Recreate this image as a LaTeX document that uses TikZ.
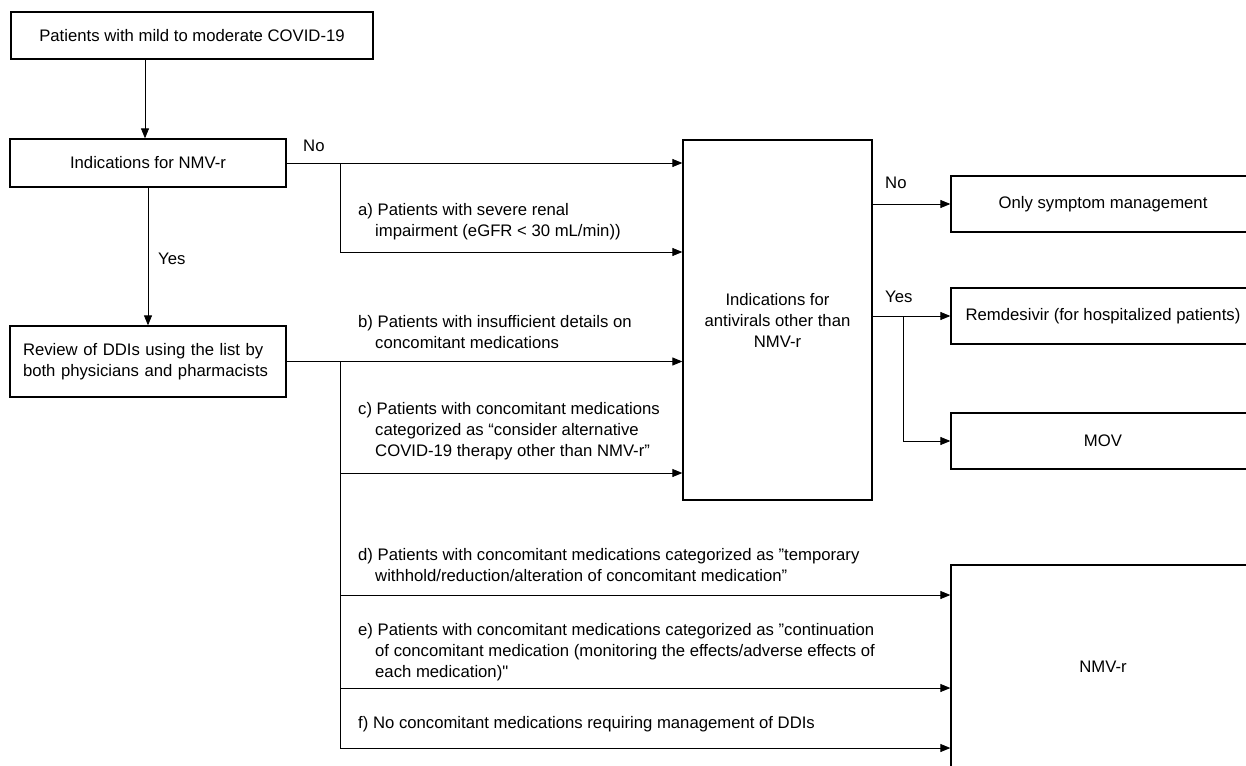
\documentclass[tikz,border=0pt]{standalone}
\usepackage{fontspec}
\setmainfont{Liberation Sans}[Ligatures=TeXOff]
\usetikzlibrary{arrows.meta}
\begin{document}
\begin{tikzpicture}[x=1pt,y=-1pt,
  txt/.style={font=\fontsize{16.7}{21}\selectfont},
  box/.style={txt, draw, line width=1.3pt, inner sep=0pt, align=center},
  lbl/.style={txt, anchor=base west, inner sep=0pt, align=left},
  conn/.style={line width=0.9pt},
  arr/.style={conn, -{Triangle[length=10pt,width=8pt]}}]
\fill[white] (0,0) rectangle (1246,765);
\clip (0,0) rectangle (1246,765);
% boxes
\node[box, minimum width=362pt, minimum height=47pt] (start) at (192,35.5) {Patients with mild to moderate COVID-19};
\node[box, minimum width=276pt, minimum height=48pt] (ind1) at (148,163) {Indications for NMV-r};
\node[box, minimum width=276pt, minimum height=71pt, text width=250pt, align=left] (rev) at (148,361.5) {Review of DDIs using the list by\\both physicians and pharmacists};
\node[box, minimum width=189pt, minimum height=360pt] (ind2) at (777.5,320) {Indications for\\antivirals other than\\NMV-r};
\node[box, minimum width=304pt, minimum height=56pt] (sym) at (1103,204) {Only symptom management};
\node[box, minimum width=304pt, minimum height=56pt] (rem) at (1103,316) {Remdesivir (for hospitalized patients)};
\node[box, minimum width=304pt, minimum height=56pt] (mov) at (1103,441) {MOV};
\node[box, minimum width=304pt, minimum height=203pt] (nmv) at (1103,666.5) {NMV-r};
% helper coordinates
\coordinate (c1) at (145,0);
\coordinate (ja) at (340,163);
\coordinate (ya) at (0,252);
\coordinate (jb) at (340,361.5);
\coordinate (yc) at (0,473);
\coordinate (yd) at (0,595);
\coordinate (ye) at (0,688);
\coordinate (yf) at (0,748);
\coordinate (jy) at (903,316);
% connectors
\draw[arr] (start.south -| c1) -- (ind1.north -| c1);
\draw[arr] (ind1) -- (rev);
\draw[arr] (ind1.east) -- (ind2.west |- ind1.east);
\draw[arr] (ja) |- (ind2.west |- ya);
\draw[arr] (rev.east) -- (ind2.west |- rev.east);
\draw[arr] (jb) |- (ind2.west |- yc);
\draw[arr] (jb) |- (nmv.west |- yd);
\draw[arr] (jb) |- (nmv.west |- ye);
\draw[arr] (jb) |- (nmv.west |- yf);
\draw[arr] (ind2.east |- sym.west) -- (sym.west);
\draw[arr] (ind2.east |- rem.west) -- (rem.west);
\draw[arr] (jy) |- (mov.west);
% labels (base = baseline of last line)
\node[lbl] (no1) at (303,151) {No};
\node[lbl] (yes1) at (158,264) {Yes};
\node[lbl] (no2) at (885,188) {No};
\node[lbl] (yes2) at (885,302) {Yes};
\node[lbl] (la) at (358,236) {a) Patients with severe renal\\\hspace*{17pt}impairment (eGFR < 30 mL/min))};
\node[lbl] (lb) at (358,348) {b) Patients with insufficient details on\\\hspace*{17pt}concomitant medications};
\node[lbl] (lc) at (358,456) {c) Patients with concomitant medications\\\hspace*{17pt}categorized as “consider alternative\\\hspace*{17pt}COVID-19 therapy other than NMV-r”};
\node[lbl] (ld) at (358,581) {d) Patients with concomitant medications categorized as ”temporary\\\hspace*{17pt}withhold/reduction/alteration of concomitant medication”};
\node[lbl] (le) at (358,677) {e) Patients with concomitant medications categorized as ”continuation\\\hspace*{17pt}of concomitant medication (monitoring the effects/adverse effects of\\\hspace*{17pt}each medication)"};
\node[lbl] (lf) at (358,728) {f) No concomitant medications requiring management of DDIs};
\end{tikzpicture}
\end{document}
